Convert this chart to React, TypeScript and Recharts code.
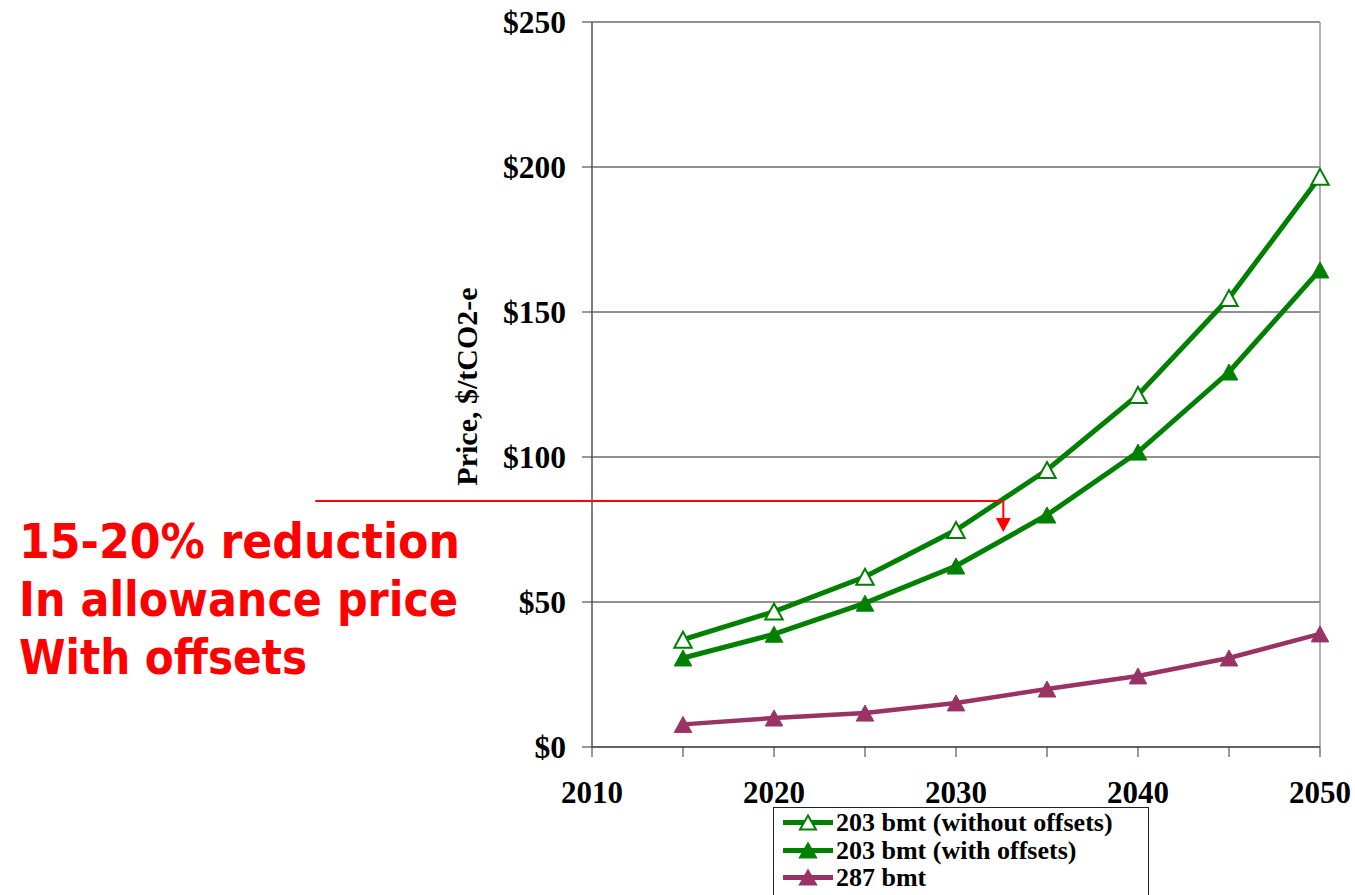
import React from "react";
import {
    LineChart,
    Line,
    XAxis,
    YAxis,
    CartesianGrid,
    ReferenceLine,
    ReferenceDot
} from "recharts";

// allowance price, $/tCO2-e
const years = [2015, 2020, 2025, 2030, 2035, 2040, 2045, 2050];
const withoutOffsets = [37, 46.7, 58.7, 74.8, 95.5, 121.4, 154.8, 196.6];
const withOffsets = [30.7, 38.9, 49.6, 62.4, 80, 101.7, 129.3, 164.5];
const bmt287 = [7.8, 10, 11.7, 15.2, 20, 24.5, 30.7, 39];

const seriesNames = ["203 bmt (without offsets)", "203 bmt (with offsets)", "287 bmt"];
const yTicks = [0, 50, 100, 150, 200, 250];
const xTicks = [2010, 2015, 2020, 2025, 2030, 2035, 2040, 2045, 2050];
const xLabelYears = [2010, 2020, 2030, 2040, 2050];
const noteLines = ["15-20% reduction", "In allowance price", "With offsets"];

// red callout: horizontal leader and down arrow
const noteStartYear = 1994.8;
const noteYear = 2032.6;
const notePrice = 84.8;
const noteArrowTip = 74.1;
const noteArrowTop = 78.9;

const GREEN = "#008000";
const PLUM = "#993366";
const SERIF = "'Liberation Serif', 'Times New Roman', serif";

const data = years.map((year, i) => ({
    year,
    without: withoutOffsets[i],
    withOff: withOffsets[i],
    low: bmt287[i]
}));

function trianglePath(cx: number, cy: number, w: number, h: number) {
    return `M${cx},${cy - h / 2} L${cx + w / 2},${cy + h / 2} L${cx - w / 2},${cy + h / 2} Z`;
}

const triangleDot = (fill: string, stroke: string, sw: number) => (props: any) => {
    const { cx, cy, index } = props;
    if (cx == null || cy == null) return <g key={`n-${index}`} />;
    return (
        <path
            key={`t-${index}`}
            d={trianglePath(cx, cy, 17.5, 16)}
            fill={fill}
            stroke={stroke}
            strokeWidth={sw}
        />
    );
};

const ArrowHead = (props: any) => {
    const { cx, cy } = props;
    return <path d={`M${cx - 7.5},${cy - 14} L${cx + 7.5},${cy - 14} L${cx},${cy} Z`} fill="red" />;
};

const YTitle = (props: any) => {
    const { viewBox } = props;
    const x = viewBox.x - 15;
    const y = viewBox.y + viewBox.height / 2 + 2;
    return (
        <text
            x={x}
            y={y}
            transform={`rotate(-90, ${x}, ${y})`}
            textAnchor="middle"
            fontFamily={SERIF}
            fontWeight="bold"
            fontSize={30}
            fill="#000"
        >
            Price, $/tCO2-e
        </text>
    );
};

const legendItems = [
    { name: seriesNames[0], color: GREEN, fill: "#fff" },
    { name: seriesNames[1], color: GREEN, fill: GREEN },
    { name: seriesNames[2], color: PLUM, fill: PLUM }
];

function ChartLegend() {
    return (
        <div
            style={{
                position: "absolute",
                left: 773,
                top: 807,
                width: 374,
                height: 120,
                border: "1px solid #222",
                background: "#fff",
                paddingTop: 1
            }}
        >
            {legendItems.map((item) => (
                <div key={item.name} style={{ display: "flex", alignItems: "center", height: 27.5 }}>
                    <svg width={62} height={27} style={{ flex: "none" }}>
                        <line x1={9} y1={13.5} x2={59} y2={13.5} stroke={item.color} strokeWidth={5} />
                        <path
                            d={trianglePath(34, 13.5, 16, 14)}
                            fill={item.fill}
                            stroke={item.color}
                            strokeWidth={2}
                        />
                    </svg>
                    <span
                        style={{
                            fontFamily: SERIF,
                            fontWeight: "bold",
                            fontSize: 26,
                            lineHeight: "27px",
                            color: "#000",
                            whiteSpace: "nowrap"
                        }}
                    >
                        {item.name}
                    </span>
                </div>
            ))}
        </div>
    );
}

export default function App() {
    const tickStyle = { fill: "#000", fontFamily: SERIF, fontWeight: "bold" as const };
    return (
        <div
            style={{
                position: "absolute",
                left: 0,
                top: 0,
                width: 1355,
                height: 895,
                overflow: "hidden",
                background: "#fff"
            }}
        >
            <svg width={620} height={700} style={{ position: "absolute", left: 0, top: 0 }}>
                {noteLines.map((line, i) => (
                    <text
                        key={line}
                        x={19}
                        y={558 + i * 58}
                        fontFamily="'DejaVu Sans', Verdana, sans-serif"
                        fontWeight="bold"
                        fontSize={48}
                        fill="#ff0000"
                        textLength={[441, 439, 288][i]}
                        lengthAdjust="spacingAndGlyphs"
                    >
                        {line}
                    </text>
                ))}
            </svg>
            <div style={{ position: "absolute", left: 0, top: 0 }}>
                <LineChart
                    width={1355}
                    height={895}
                    data={data}
                    margin={{ top: 22, right: 35, bottom: 88, left: 492 }}
                >
                    <CartesianGrid horizontal vertical={false} stroke="#222" strokeWidth={1} />
                    <XAxis
                        dataKey="year"
                        type="number"
                        domain={[2010, 2050]}
                        ticks={xTicks}
                        interval={0}
                        height={60}
                        tickFormatter={(v: number) => (xLabelYears.includes(v) ? String(v) : "")}
                        tick={{ ...tickStyle, fontSize: 31 }}
                        tickSize={10}
                        tickMargin={24}
                        axisLine={{ stroke: "#555", strokeWidth: 1.5 }}
                        tickLine={{ stroke: "#333" }}
                    />
                    <YAxis
                        type="number"
                        domain={[0, 250]}
                        ticks={yTicks}
                        interval={0}
                        width={100}
                        tickFormatter={(v: number) => `$${v}`}
                        tick={{ ...tickStyle, fontSize: 31.5 }}
                        tickSize={10}
                        tickMargin={16}
                        axisLine={{ stroke: "#555", strokeWidth: 1.5 }}
                        tickLine={{ stroke: "#333" }}
                        label={{ content: YTitle }}
                    />
                    <ReferenceLine x={2050} stroke="#999" strokeWidth={1.5} />
                    <Line
                        type="linear"
                        dataKey="without"
                        name={seriesNames[0]}
                        stroke={GREEN}
                        strokeWidth={5}
                        dot={triangleDot("#fff", GREEN, 2)}
                        activeDot={false}
                        isAnimationActive={false}
                    />
                    <Line
                        type="linear"
                        dataKey="withOff"
                        name={seriesNames[1]}
                        stroke={GREEN}
                        strokeWidth={5}
                        dot={triangleDot(GREEN, GREEN, 1)}
                        activeDot={false}
                        isAnimationActive={false}
                    />
                    <Line
                        type="linear"
                        dataKey="low"
                        name={seriesNames[2]}
                        stroke={PLUM}
                        strokeWidth={4.5}
                        dot={triangleDot(PLUM, PLUM, 1)}
                        activeDot={false}
                        isAnimationActive={false}
                    />
                    <ReferenceLine
                        segment={[
                            { x: noteStartYear, y: notePrice },
                            { x: noteYear, y: notePrice }
                        ]}
                        stroke="#ff0000"
                        strokeWidth={2}
                        ifOverflow="visible"
                    />
                    <ReferenceLine
                        segment={[
                            { x: noteYear, y: notePrice },
                            { x: noteYear, y: noteArrowTop }
                        ]}
                        stroke="#ff0000"
                        strokeWidth={2}
                        ifOverflow="visible"
                    />
                    <ReferenceDot
                        x={noteYear}
                        y={noteArrowTip}
                        ifOverflow="visible"
                        shape={ArrowHead}
                    />
                </LineChart>
            </div>
            <ChartLegend />
        </div>
    );
}
